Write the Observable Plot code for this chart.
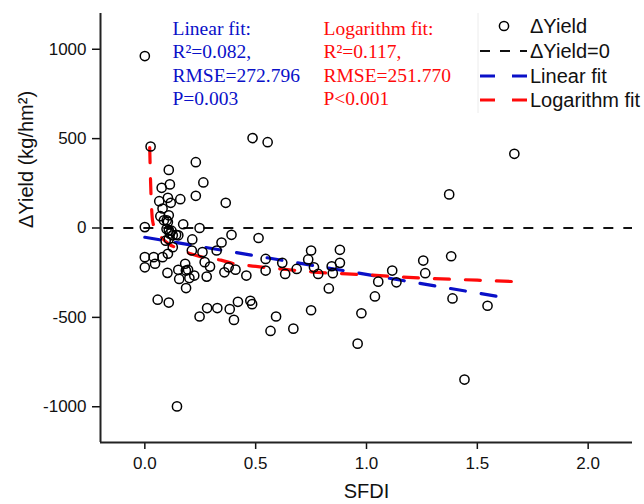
<!DOCTYPE html>
<html>
<head>
<meta charset="utf-8">
<script src="https://cdn.jsdelivr.net/npm/d3@7"></script>
<script src="https://cdn.jsdelivr.net/npm/@observablehq/plot@0.6"></script>
<style>
  html, body { margin: 0; padding: 0; background: #fff; }
  #chart svg { display: block; }
</style>
</head>
<body>
<div id="chart"></div>
<script>
// ---- Data ----
const sfdi = [0.000,0.026,0.000,0.000,0.000,0.040,0.046,0.058,0.076,0.065,0.080,0.070,0.086,0.104,0.108,0.113,0.104,0.117,0.160,0.108,
  0.099,0.108,0.113,0.126,0.141,0.108,0.126,0.104,0.080,0.102,0.108,0.151,0.173,0.214,0.247,0.230,0.230,0.264,0.212,0.182,
  0.151,0.195,0.155,0.201,0.186,0.223,0.270,0.294,0.279,0.260,0.324,0.346,0.365,0.391,0.359,0.409,0.378,0.458,0.513,0.486,
  0.554,0.247,0.281,0.327,0.383,0.402,0.420,0.476,0.484,0.567,0.592,0.670,0.545,0.545,0.620,0.633,0.685,0.737,0.750,0.763,
  0.782,0.880,0.880,0.843,0.848,0.830,0.750,0.960,0.977,1.038,1.053,1.116,1.135,1.256,1.265,1.373,1.382,1.388,1.442,1.546,
  1.667,0.145,0.098,0.120,0.094,0.185];
const dYield = [962,456,5,-163,-220,-163,-200,-401,225,150,109,66,43,34,325,244,169,141,161,71,
  43,-13,-32,-41,-38,-62,-107,-144,-163,-251,-417,-41,21,-64,0,368,180,255,-126,-200,
  -234,-234,-285,-280,-336,-266,-191,-216,-272,-135,-126,-81,141,-38,-248,-233,-220,-266,-56,503,
  480,-495,-448,-448,-454,-514,-413,-407,-426,-576,-495,-563,-173,-238,-195,-257,-229,-176,-126,-220,
  -257,-122,-195,-214,-253,-338,-460,-647,-477,-383,-300,-238,-304,-182,-253,188,-158,-394,-848,-435,
  415,-998,-6,-15,-71,-238];

// Linear fit line (read endpoints)
const linX = [0.000, 1.650];
const linY = [-52, -395];

// Logarithm fit curve
const logX = [0.022,0.025,0.028,0.031,0.035,0.050,0.077,0.109,0.150,0.207,0.260,0.343,0.404,0.486,0.622,0.750,1.000,1.250,1.500,1.667];
const logY = [450,300,180,100,40,-15,-56,-90,-115,-144,-163,-180,-200,-213,-230,-245,-262,-280,-292,-300];

const xTicks = [0, 0.5, 1.0, 1.5, 2.0];
const yTicks = [-1000, -500, 0, 500, 1000];

const linearText = ["Linear fit:", "R²=0.082,", "RMSE=272.796", "P=0.003"];
const logText = ["Logarithm fit:", "R²=0.117,", "RMSE=251.770", "P<0.001"];
const legendLabels = ["ΔYield", "ΔYield=0", "Linear fit", "Logarithm fit"];

// ---- Build tables ----
const pts = sfdi.map((x, i) => ({x, y: dYield[i]}));
const lin = linX.map((x, i) => ({x, y: linY[i]}));
const lg = logX.map((x, i) => ({x, y: logY[i]}));

const BLUE = "#0a10c8";
const RED = "#ff0a0a";
const SANS = "'Liberation Sans', Arial, sans-serif";
const SERIF = "'Liberation Serif', 'Times New Roman', serif";

const plot = Plot.plot({
  width: 644,
  height: 504,
  marginLeft: 100,
  marginRight: 12,
  marginTop: 13,
  marginBottom: 62,
  style: {fontFamily: SANS, fontSize: "17px", color: "#111", background: "#fff"},
  x: {domain: [-0.2, 2.2]},
  y: {domain: [-1200, 1200]},
  marks: [
    Plot.axisX({ticks: xTicks, tickFormat: d3.format(".1f"), tickSize: 7, tickPadding: 7, label: null, fontSize: 17, strokeWidth: 1.5}),
    Plot.axisY({ticks: yTicks, tickFormat: d => String(d), tickSize: 8, tickPadding: 6, label: null, fontSize: 17, strokeWidth: 1.5}),
    Plot.ruleX([-0.2], {stroke: "#222", strokeWidth: 2}),
    Plot.ruleY([-1200], {stroke: "#222", strokeWidth: 2}),
    Plot.ruleY([0], {stroke: "#111", strokeWidth: 2, strokeDasharray: "10,10", x1: -0.185, x2: 2.2}),
    Plot.line(lin, {x: "x", y: "y", stroke: BLUE, strokeWidth: 3.2, strokeDasharray: "15,16"}),
    Plot.line(lg, {x: "x", y: "y", stroke: RED, strokeWidth: 3.2, strokeDasharray: "15,16", curve: "monotone-x"}),
    Plot.dot(pts, {x: "x", y: "y", r: 4.6, stroke: "#000", strokeWidth: 1.5, fill: "none"}),
    Plot.text([linearText.join("\n")], {frameAnchor: "top-left", dx: 72, dy: 49, lineAnchor: "middle", textAnchor: "start",
      fill: BLUE, fontFamily: SERIF, fontSize: 19.5, lineHeight: 1.2}),
    Plot.text([logText.join("\n")], {frameAnchor: "top-left", dx: 223, dy: 49, lineAnchor: "middle", textAnchor: "start",
      fill: RED, fontFamily: SERIF, fontSize: 19.5, lineHeight: 1.2}),
    Plot.text(["SFDI"], {frameAnchor: "bottom", dy: 49, lineAnchor: "middle", fontSize: 20, fill: "#111"}),
    Plot.text(["ΔYield (kg/hm²)"], {frameAnchor: "left", dx: -74, rotate: -90, lineAnchor: "middle", fontSize: 20, fill: "#111"})
  ]
});

document.getElementById("chart").appendChild(plot);

// ---- Legend (drawn into the SVG, top-right) ----
const svg = d3.select(plot);
const lg0 = svg.append("g").attr("font-family", SANS).attr("font-size", 20).attr("fill", "#111").attr("text-anchor", "start");
const rowY = [26, 51, 76, 100];
lg0.append("line").attr("x1", 478).attr("x2", 478).attr("y1", 13).attr("y2", 113).attr("stroke", "#ececec").attr("stroke-width", 1);
lg0.append("circle").attr("cx", 504).attr("cy", rowY[0]).attr("r", 4.6).attr("fill", "none").attr("stroke", "#000").attr("stroke-width", 1.5);
lg0.append("line").attr("x1", 480).attr("x2", 527).attr("y1", rowY[1]).attr("y2", rowY[1]).attr("stroke", "#111").attr("stroke-width", 2).attr("stroke-dasharray", "10,10");
lg0.append("line").attr("x1", 480).attr("x2", 527).attr("y1", rowY[2]).attr("y2", rowY[2]).attr("stroke", BLUE).attr("stroke-width", 3.2).attr("stroke-dasharray", "15,17");
lg0.append("line").attr("x1", 480).attr("x2", 527).attr("y1", rowY[3]).attr("y2", rowY[3]).attr("stroke", RED).attr("stroke-width", 3.2).attr("stroke-dasharray", "15,17");
legendLabels.forEach((t, i) => {
  lg0.append("text").attr("x", 530).attr("y", rowY[i]).attr("dy", "0.35em").attr("text-anchor", "start").text(t);
});
</script>
</body>
</html>
